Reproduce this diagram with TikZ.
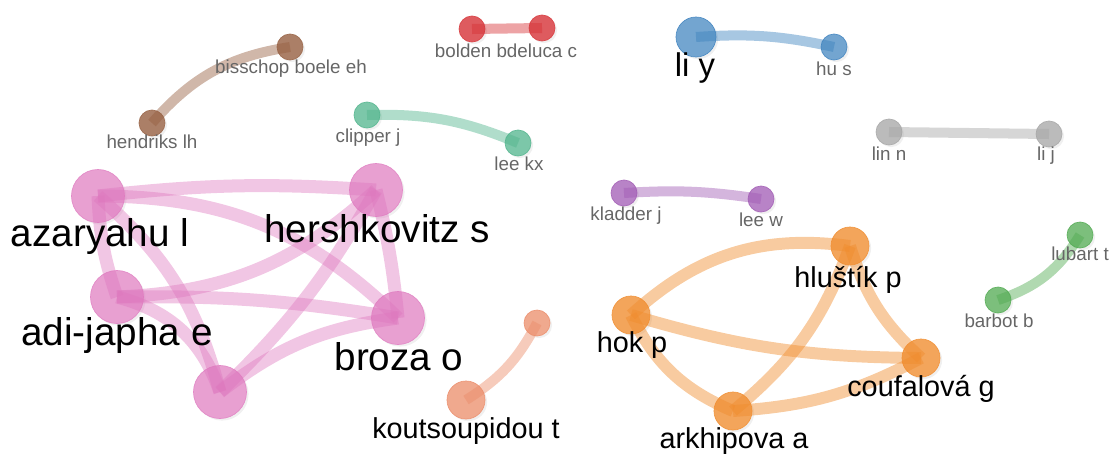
\documentclass[tikz,border=0pt]{standalone}
\usepackage{fontspec}
\setmainfont{Liberation Sans}
\usetikzlibrary{shadows}
\definecolor{pinkc}{RGB}{222,119,190}
\definecolor{orangec}{RGB}{240,140,45}
\definecolor{salmonc}{RGB}{235,140,105}
\definecolor{brownc}{RGB}{150,95,65}
\definecolor{redc}{RGB}{214,50,55}
\definecolor{tealc}{RGB}{80,180,140}
\definecolor{bluec}{RGB}{60,130,190}
\definecolor{grayc}{RGB}{165,165,165}
\definecolor{purplec}{RGB}{160,90,180}
\definecolor{greenc}{RGB}{80,170,80}
\begin{document}
\begin{tikzpicture}[x=0.02cm,y=-0.02cm]
\tikzstyle{dot}=[circle,inner sep=0pt,line width=0.4pt,drop shadow={shadow xshift=1.2pt,shadow yshift=-1.2pt,opacity=0.12}]
\tikzstyle{bigdot}=[dot,minimum size=1.06cm]
\tikzstyle{middot}=[dot,minimum size=0.76cm]
\tikzstyle{smalldot}=[dot,minimum size=0.52cm]
\tikzstyle{link}=[line width=5.7pt,opacity=0.45]
\tikzstyle{biglabel}=[anchor=base,inner sep=0pt,font=\fontsize{22}{24}\selectfont]
\tikzstyle{midlabel}=[anchor=base,inner sep=0pt,font=\fontsize{16.4}{18}\selectfont]
\tikzstyle{smalllabel}=[anchor=base,inner sep=0pt,text=black!60,font=\fontsize{10.7}{12}\selectfont]
\useasboundingbox (0,0) rectangle (1112,453);
% authors as circles
\node [bigdot,fill=pinkc!70!white,draw=pinkc!85!white] (az) at (98,196) {};
\node [bigdot,fill=pinkc!70!white,draw=pinkc!85!white] (hs) at (376,190) {};
\node [bigdot,fill=pinkc!70!white,draw=pinkc!85!white] (adi) at (117,297) {};
\node [bigdot,fill=pinkc!70!white,draw=pinkc!85!white] (bro) at (398,318) {};
\node [bigdot,fill=pinkc!70!white,draw=pinkc!85!white] (p5) at (220,392) {};
\node [middot,fill=salmonc!75!white,draw=salmonc!90!white] (kou) at (466,400) {};
\node [smalldot,fill=salmonc!75!white,draw=salmonc!90!white] (s2) at (537,323) {};
\node [middot,fill=orangec!78!white,draw=orangec!90!white] (hl) at (850,246) {};
\node [middot,fill=orangec!78!white,draw=orangec!90!white] (hok) at (631,315) {};
\node [middot,fill=orangec!78!white,draw=orangec!90!white] (cou) at (921,358) {};
\node [middot,fill=orangec!78!white,draw=orangec!90!white] (ark) at (733,411) {};
\node [smalldot,fill=brownc!80!white,draw=brownc!90!white] (hen) at (152,123) {};
\node [smalldot,fill=brownc!80!white,draw=brownc!90!white] (bis) at (290,47) {};
\node [smalldot,fill=redc!80!white,draw=redc!90!white] (bol) at (472,29) {};
\node [smalldot,fill=redc!80!white,draw=redc!90!white] (del) at (542,28) {};
\node [smalldot,fill=tealc!75!white,draw=tealc!90!white] (cli) at (367,115) {};
\node [smalldot,fill=tealc!75!white,draw=tealc!90!white] (lkx) at (518,143) {};
\node [dot,minimum size=0.8cm,fill=bluec!72!white,draw=bluec!90!white] (liy) at (696,37) {};
\node [smalldot,fill=bluec!72!white,draw=bluec!90!white] (hus) at (834,47) {};
\node [smalldot,fill=grayc!75!white,draw=grayc!90!white] (lin) at (889,132) {};
\node [smalldot,fill=grayc!75!white,draw=grayc!90!white] (lij) at (1049,134) {};
\node [smalldot,fill=purplec!75!white,draw=purplec!90!white] (kla) at (624,193) {};
\node [smalldot,fill=purplec!75!white,draw=purplec!90!white] (lew) at (761,199) {};
\node [smalldot,fill=greenc!75!white,draw=greenc!90!white] (bar) at (998,300) {};
\node [smalldot,fill=greenc!75!white,draw=greenc!90!white] (lub) at (1080,235) {};
% co-authorship links
\tikzstyle{pinkedge}=[link,draw=pinkc,line width=7.4pt,opacity=0.42]
\draw [pinkedge] (az.center) to[bend left=5] (hs.center);
\draw [pinkedge] (az.center) to[bend left=22] (bro.center);
\draw [pinkedge] (az.center) to[bend left=17] (p5.center);
\draw [pinkedge] (az.center) to[bend right=8] (adi.center);
\draw [pinkedge] (adi.center) to[bend right=20] (hs.center);
\draw [pinkedge] (adi.center) to[bend left=5] (bro.center);
\draw [pinkedge] (adi.center) to[bend left=28] (p5.center);
\draw [pinkedge] (hs.center) to[bend left=4] (bro.center);
\draw [pinkedge] (p5.center) to[bend right=8] (hs.center);
\draw [pinkedge] (p5.center) to[bend left=15] (bro.center);
\tikzstyle{orangeedge}=[link,draw=orangec,line width=6.8pt]
\draw [orangeedge] (hok.center) to[bend left=25] (hl.center);
\draw [orangeedge] (hok.center) to[bend right=8] (cou.center);
\draw [orangeedge] (hok.center) to[bend right=20] (ark.center);
\draw [orangeedge] (ark.center) to[bend right=15] (hl.center);
\draw [orangeedge] (ark.center) to[bend right=12] (cou.center);
\draw [orangeedge] (hl.center) to[bend right=15] (cou.center);
\draw [link,draw=salmonc] (kou.center) to[bend right=15] (s2.center);
\draw [link,draw=brownc] (hen.center) to[bend left=20] (bis.center);
\draw [link,draw=redc] (bol.center) -- (del.center);
\draw [link,draw=tealc] (cli.center) to[bend left=12] (lkx.center);
\draw [link,draw=bluec] (liy.center) to[bend left=8] (hus.center);
\draw [link,draw=grayc] (lin.center) -- (lij.center);
\draw [link,draw=purplec] (kla.center) to[bend left=6] (lew.center);
\draw [link,draw=greenc] (bar.center) to[bend right=20] (lub.center);
% names
\node [biglabel] (az-l) at (100,246) {azaryahu l};
\node [biglabel] (hs-l) at (377,242) {hershkovitz s};
\node [biglabel] (adi-l) at (117,345) {adi-japha e};
\node [biglabel] (bro-l) at (399,370) {broza o};
\node [midlabel] (kou-l) at (466,438) {koutsoupidou t};
\node [midlabel] (hl-l) at (848,287) {hluštík p};
\node [midlabel] (hok-l) at (632,352) {hok p};
\node [midlabel] (cou-l) at (921,396) {coufalová g};
\node [midlabel] (ark-l) at (734,448) {arkhipova a};
\node [anchor=base,inner sep=0pt,font=\fontsize{18.7}{20}\selectfont] (liy-l) at (695,76) {li y};
\node [smalllabel] (hen-l) at (152,148) {hendriks lh};
\node [smalllabel] (bis-l) at (291,73) {bisschop boele eh};
\node [smalllabel] (bol-l) at (471,57) {bolden b};
\node [smalllabel] (del-l) at (542,57) {deluca c};
\node [smalllabel] (cli-l) at (368,142) {clipper j};
\node [smalllabel] (lkx-l) at (519,170) {lee kx};
\node [smalllabel] (hus-l) at (834,75) {hu s};
\node [smalllabel] (lin-l) at (889,160) {lin n};
\node [smalllabel] (lij-l) at (1046,160) {li j};
\node [smalllabel] (kla-l) at (626,220) {kladder j};
\node [smalllabel] (lew-l) at (761,226) {lee w};
\node [smalllabel] (bar-l) at (999,327) {barbot b};
\node [smalllabel] (lub-l) at (1080,260) {lubart t};
\end{tikzpicture}
\end{document}
